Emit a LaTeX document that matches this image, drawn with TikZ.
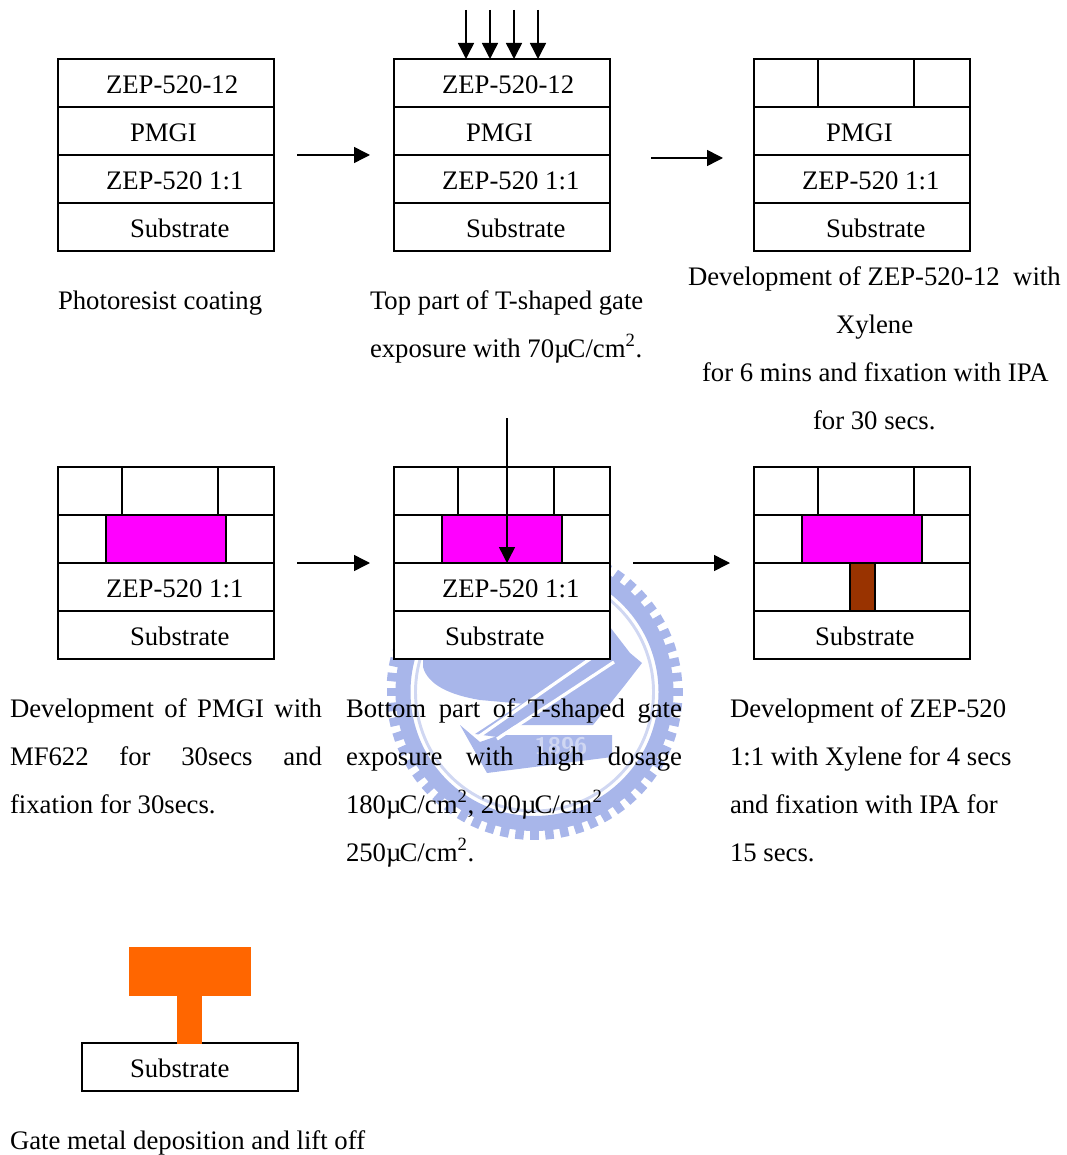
\documentclass[tikz,border=0pt]{standalone}
\usepackage{fontspec}
\setmainfont[Ligatures=NoCommon]{Liberation Serif}
\usetikzlibrary{arrows.meta}
\definecolor{wm}{RGB}{168,182,234}
\definecolor{wmpale}{RGB}{208,215,242}
\definecolor{magentaL}{RGB}{255,0,255}
\definecolor{brownL}{RGB}{153,51,0}
\definecolor{orangeL}{RGB}{255,102,0}
\newcommand{\jl}[2]{\hbox to #1{#2}}
\newcommand{\um}{µ\kern-1.4pt}
\tikzset{
 layerbox/.style={draw=black,fill=white,line width=1.1pt,minimum width=162pt,minimum height=36pt,anchor=north west,inner sep=0pt,outer sep=0pt},
 resist/.style={draw=black,fill=magentaL,line width=1.1pt,minimum width=90pt,minimum height=36pt,anchor=north west,inner sep=0pt,outer sep=0pt},
 stem/.style={draw=black,fill=brownL,line width=1.1pt,minimum width=18.75pt,minimum height=36pt,anchor=north west,inner sep=0pt,outer sep=0pt},
 metal/.style={fill=orangeL,inner sep=0pt,outer sep=0pt,anchor=north west},
 txt/.style={anchor=base west,inner sep=0pt,outer sep=0pt,font=\fontsize{20.05pt}{24pt}\selectfont},
 arr/.style={-{Triangle[length=12pt,width=12pt]},line width=1.1pt,shorten >=0pt},
 divider/.style={draw=black,line width=1.1pt},
}
\begin{document}
\begin{tikzpicture}[x=0.75pt,y=-0.75pt]
\useasboundingbox (0,0) rectangle (1066,1155);
% watermark seal
\begin{scope}[shift={(534.5,692)}]
\foreach \a in {0,6,...,354}{
  \draw[wm,line width=6.4pt] (\a:135) -- (\a:148);
}
\draw[wm,line width=11.25pt] (0,0) circle[radius=131.5];
\draw[wmpale,line width=2.2pt] (0,0) circle[radius=119];
\end{scope}
\fill[wm] (423,640) -- (423,667) .. controls (428,685) and (450,695) .. (480,700) -- (525,704) -- (600,650) -- (600,640) -- cycle;
\fill[wm] (513,725) -- (593,725) -- (625,685) -- (642,663) -- (630,653) -- (610,627) -- (600,640) -- (607,652) -- cycle;
\fill[wm] (460,725) -- (487,773) -- (612,757) -- (612,735) -- (500,735) -- (480,742) -- cycle;
\fill[wm] (475,734) -- (600,652) -- (612,662) -- (497,737) -- cycle;
\draw[white,line width=2.4pt] (478,737) -- (600,652);
\draw[white,line width=2.4pt] (497,739) -- (614,662);
\node[anchor=center,inner sep=0pt,text=wmpale,font=\sffamily\bfseries\fontsize{18pt}{20pt}\selectfont] (seal) at (561,746) {1896};
% --- top row
\foreach \n/\x in {a/58,b/394,c/754}{
  \node[layerbox] (\n1) at (\x,59) {};
  \node[layerbox] (\n2) at (\x,107) {};
  \node[layerbox] (\n3) at (\x,155) {};
  \node[layerbox] (\n4) at (\x,203) {};
}
\coordinate (c1l) at (818,59); \coordinate (c1lb) at (818,107);
\coordinate (c1r) at (914,59); \coordinate (c1rb) at (914,107);
\draw[divider] (c1l) -- (c1lb);
\draw[divider] (c1r) -- (c1rb);
% --- middle row
\foreach \n/\x in {d/58,e/394,f/754}{
  \node[layerbox] (\n1) at (\x,467) {};
  \node[layerbox] (\n2) at (\x,515) {};
  \node[layerbox] (\n3) at (\x,563) {};
  \node[layerbox] (\n4) at (\x,611) {};
  \coordinate (\n lt) at (\x+64,467); \coordinate (\n lb) at (\x+64,515);
  \coordinate (\n rt) at (\x+160,467); \coordinate (\n rb) at (\x+160,515);
  \draw[divider] (\n lt) -- (\n lb);
  \draw[divider] (\n rt) -- (\n rb);
  \node[resist] (\n m) at (\x+48,515) {};
}
\node[stem] (fs) at (850,563) {};
% --- final structure
\node[layerbox] (g4) at (82,1043) {};
\node[metal,minimum width=91.5pt,minimum height=37pt] (gt) at (129,947) {};
\node[metal,minimum width=18.75pt,minimum height=36pt] (gs) at (177,996) {};
% --- layer labels
\node[txt] (ta1) at (106,93.7) {ZEP-520-12};
\node[txt] (ta2) at (130,141.7) {PMGI};
\node[txt] (ta3) at (106,189.7) {ZEP-520 1:1};
\node[txt] (ta4) at (130,237.7) {Substrate};
\node[txt] (tb1) at (442,93.7) {ZEP-520-12};
\node[txt] (tb2) at (466,141.7) {PMGI};
\node[txt] (tb3) at (442,189.7) {ZEP-520 1:1};
\node[txt] (tb4) at (466,237.7) {Substrate};
\node[txt] (tc2) at (826,141.7) {PMGI};
\node[txt] (tc3) at (802,189.7) {ZEP-520 1:1};
\node[txt] (tc4) at (826,237.7) {Substrate};
\node[txt] (td3) at (106,597) {ZEP-520 1:1};
\node[txt] (td4) at (130,645) {Substrate};
\node[txt] (te3) at (442,597) {ZEP-520 1:1};
\node[txt] (te4) at (445,645) {Substrate};
\node[txt] (tf4) at (815,645) {Substrate};
\node[txt] (tg4) at (130,1077) {Substrate};
% --- captions
\node[txt] (c1) at (58,309.7) {Photoresist coating};
\node[txt] (c2a) at (370,309.7) {Top part of T-shaped gate};
\node[txt] (c2b) at (370,357) {exposure with 70\um C/cm\textsuperscript{2}.};
\node[txt] (c3a) at (688,285.7) {Development of ZEP-520-12\ \ with};
\node[txt] (c3b) at (836,333) {Xylene};
\node[txt] (c3c) at (702,381) {for 6 mins and fixation with IPA};
\node[txt] (c3d) at (813,429) {for 30 secs.};
\node[txt] (c4a) at (10,717) {\jl{234pt}{Development\hfill of\hfill PMGI\hfill with}};
\node[txt] (c4b) at (10,765) {\jl{234pt}{MF622\hfill for\hfill 30secs\hfill and}};
\node[txt] (c4c) at (10,813) {fixation for 30secs.};
\node[txt] (c5a) at (346,717) {\jl{252pt}{Bottom\hfill part\hfill of\hfill T-shaped\hfill gate}};
\node[txt] (c5b) at (346,765) {\jl{252pt}{exposure\hfill with\hfill high\hfill dosage}};
\node[txt] (c5c) at (346,813) {180\um C/cm\textsuperscript{2}, 200\um C/cm\textsuperscript{2}};
\node[txt] (c5d) at (346,861) {250\um C/cm\textsuperscript{2}.};
\node[txt] (c6a) at (730,717) {Development of ZEP-520};
\node[txt] (c6b) at (730,765) {1:1 with Xylene for 4 secs};
\node[txt] (c6c) at (730,813) {and fixation with IPA for};
\node[txt] (c6d) at (730,861) {15 secs.};
\node[txt] (c7) at (10,1149) {Gate metal deposition and lift off};
% --- arrows
\coordinate (s1) at (297,155); \coordinate (e1) at (370,155);
\coordinate (s2) at (651,158); \coordinate (e2) at (723,158);
\coordinate (s3) at (297,563); \coordinate (e3) at (370,563);
\coordinate (s4) at (633,563); \coordinate (e4) at (730,563);
\draw[arr] (s1) -- (e1);
\draw[arr] (s2) -- (e2);
\draw[arr] (s3) -- (e3);
\draw[arr] (s4) -- (e4);
\foreach \i/\x in {1/466,2/490,3/514,4/538}{
  \coordinate (u\i) at (\x,10);
  \coordinate (v\i) at (\x,59);
  \draw[arr] (u\i) -- (v\i);
}
\coordinate (ex) at (507,418); \coordinate (ey) at (507,563);
\draw[arr] (ex) -- (ey);
\end{tikzpicture}
\end{document}
